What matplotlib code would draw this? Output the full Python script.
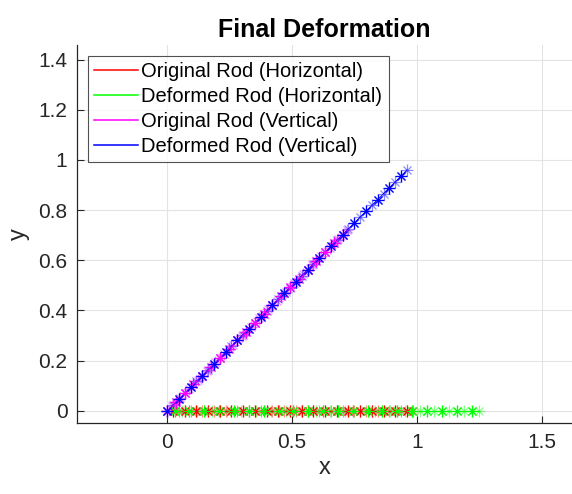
"""
Final deformation of the two-rod structure: original vs deformed node positions
for the horizontal and the vertical (diagonal) rod.
"""

import matplotlib
matplotlib.use("Agg")
import matplotlib.pyplot as plt
from matplotlib.lines import Line2D

plt.rcParams["font.family"] = ["Liberation Sans", "DejaVu Sans"]

# --------------------------------------------------------------------------- #
# Node positions
# --------------------------------------------------------------------------- #

# horizontal rod lies on y = 0
horiz_orig_x = [0.023, 0.047, 0.070, 0.094, 0.117, 0.140, 0.164, 0.187, 0.211, 0.234,
                0.257, 0.281, 0.304, 0.328, 0.351, 0.374, 0.398, 0.421, 0.445, 0.468,
                0.491, 0.515, 0.538, 0.562, 0.585, 0.608, 0.632, 0.655, 0.679, 0.702,
                0.725, 0.749, 0.772, 0.796, 0.819, 0.842, 0.866, 0.889, 0.913, 0.936,
                0.959, 0.983]
horiz_def_x = [0.030, 0.059, 0.089, 0.119, 0.149, 0.178, 0.208, 0.238, 0.267, 0.297,
               0.327, 0.356, 0.386, 0.416, 0.446, 0.475, 0.505, 0.535, 0.564, 0.594,
               0.624, 0.653, 0.683, 0.713, 0.743, 0.772, 0.802, 0.832, 0.861, 0.891,
               0.921, 0.950, 0.980, 1.010, 1.040, 1.069, 1.099, 1.129, 1.158, 1.188,
               1.218, 1.248]

# vertical rod runs along the diagonal (x == y)
vert_orig = [0.000, 0.018, 0.035, 0.053, 0.070, 0.088, 0.105, 0.123, 0.140, 0.158,
             0.176, 0.193, 0.211, 0.228, 0.246, 0.263, 0.281, 0.299, 0.316, 0.334,
             0.351, 0.369, 0.386, 0.404, 0.421, 0.439, 0.457, 0.474, 0.492, 0.509,
             0.527, 0.544, 0.562, 0.580, 0.597, 0.615, 0.632, 0.650, 0.667, 0.685,
             0.702, 0.720]
vert_def = [0.000, 0.023, 0.047, 0.070, 0.094, 0.117, 0.140, 0.164, 0.187, 0.211,
            0.234, 0.257, 0.281, 0.304, 0.328, 0.351, 0.374, 0.398, 0.421, 0.445,
            0.468, 0.491, 0.515, 0.538, 0.562, 0.585, 0.608, 0.632, 0.655, 0.679,
            0.702, 0.725, 0.749, 0.772, 0.796, 0.819, 0.842, 0.866, 0.889, 0.913,
            0.936, 0.959]

series = [
    ("Original Rod (Horizontal)", horiz_orig_x, [0.0] * len(horiz_orig_x), "#ff0000"),
    ("Deformed Rod (Horizontal)", horiz_def_x, [0.0] * len(horiz_def_x), "#00ff00"),
    ("Original Rod (Vertical)", vert_orig, vert_orig, "#ff00ff"),
    ("Deformed Rod (Vertical)", vert_def, vert_def, "#0000ff"),
]

# --------------------------------------------------------------------------- #
# Figure
# --------------------------------------------------------------------------- #

fig = plt.figure(figsize=(5.72, 4.94), dpi=100)
ax = fig.add_axes([0.135, 0.144, 0.865, 0.765])

for label, xs, ys, col in series:
    ax.plot(xs, ys, color=col, lw=0.6, zorder=2)
    # asterisk nodes: '+' overlaid with 'x', every other node drawn solid
    for mk, ms in (("+", 8), ("x", 6)):
        ax.plot(xs, ys, ls="none", marker=mk, ms=ms, mew=0.9, color=col,
                alpha=0.45, zorder=3)
        ax.plot(xs[::2], ys[::2], ls="none", marker=mk, ms=ms, mew=0.9,
                color=col, zorder=4)

ax.set_xlim(-0.36, 1.62)
ax.set_ylim(-0.048, 1.458)
ax.set_xticks([0, 0.5, 1, 1.5])
ax.set_xticklabels(["0", "0.5", "1", "1.5"])
ax.set_yticks([0, 0.2, 0.4, 0.6, 0.8, 1.0, 1.2, 1.4])
ax.set_yticklabels(["0", "0.2", "0.4", "0.6", "0.8", "1", "1.2", "1.4"])

ax.grid(True, color="#e3e3e3", lw=0.8)
ax.set_axisbelow(True)
for side in ("top", "right"):
    ax.spines[side].set_visible(False)
for side in ("left", "bottom"):
    ax.spines[side].set_color("#262626")
    ax.spines[side].set_linewidth(0.9)
ax.tick_params(direction="in", length=5, width=0.8, colors="#262626",
               labelsize=15, pad=7)

ax.set_xlabel("x", fontsize=17, color="#262626", labelpad=4)
ax.set_ylabel("y", fontsize=17, color="#262626", labelpad=6)
ax.set_title("Final Deformation", fontsize=18, fontweight="bold", pad=6)

handles = [Line2D([], [], color=col, lw=1.1) for _, _, _, col in series]
labels = [s[0] for s in series]
leg = ax.legend(handles, labels, loc="upper left", bbox_to_anchor=(0.022, 0.97),
                fontsize=14.5, frameon=True, fancybox=False, handlelength=2.2,
                handletextpad=0.15, borderpad=0.3, labelspacing=0.3,
                borderaxespad=0.0)
leg.get_frame().set_edgecolor("#262626")
leg.get_frame().set_linewidth(0.8)

fig.savefig("out.png", dpi=100)
